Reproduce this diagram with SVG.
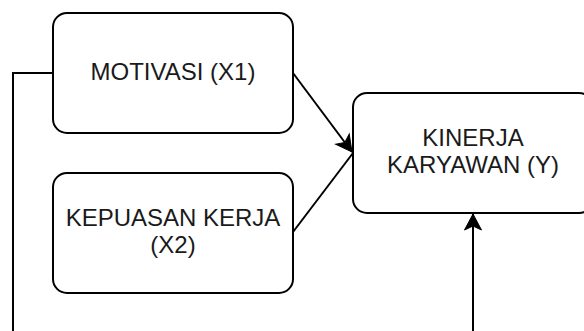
<svg xmlns="http://www.w3.org/2000/svg" width="584" height="331" viewBox="0 0 584 331">
  <style>
    .box { fill: #ffffff; stroke: #000000; stroke-width: 2; }
    .lbl { font-family: "Liberation Sans", Arial, sans-serif; font-size: 24px; fill: #1a1a1a; text-anchor: middle; }
    .edge { fill: none; stroke: #000000; stroke-width: 2; }
  </style>
  <defs>
    <marker id="arrow" markerUnits="userSpaceOnUse" markerWidth="20" markerHeight="20" viewBox="-17 -10 19 20" refX="0" refY="0" orient="auto">
      <path d="M0,0 L-16,-8.5 L-12,0 L-16,8.5 Z" fill="#000000" stroke="#000000" stroke-width="1"/>
    </marker>
  </defs>
  <g id="connectors">
    <polyline class="edge" points="53,73 13,73 13,331"/>
    <line class="edge" x1="293" y1="73" x2="352" y2="152" marker-end="url(#arrow)"/>
    <line class="edge" x1="293" y1="232" x2="353" y2="153"/>
    <line class="edge" x1="473" y1="331" x2="473" y2="214" marker-end="url(#arrow)"/>
  </g>
  <g id="motivasi">
    <rect class="box" x="53" y="13" width="240" height="120" rx="14" ry="14"/>
    <text class="lbl" x="173" y="80">MOTIVASI (X1)</text>
  </g>
  <g id="kepuasan">
    <rect class="box" x="53" y="173" width="240" height="120" rx="14" ry="14"/>
    <text class="lbl" x="173" y="226">KEPUASAN KERJA</text>
    <text class="lbl" x="173" y="253">(X2)</text>
  </g>
  <g id="kinerja">
    <rect class="box" x="353" y="93" width="240" height="120" rx="14" ry="14"/>
    <text class="lbl" x="473" y="146">KINERJA</text>
    <text class="lbl" x="473" y="173">KARYAWAN (Y)</text>
  </g>
</svg>
